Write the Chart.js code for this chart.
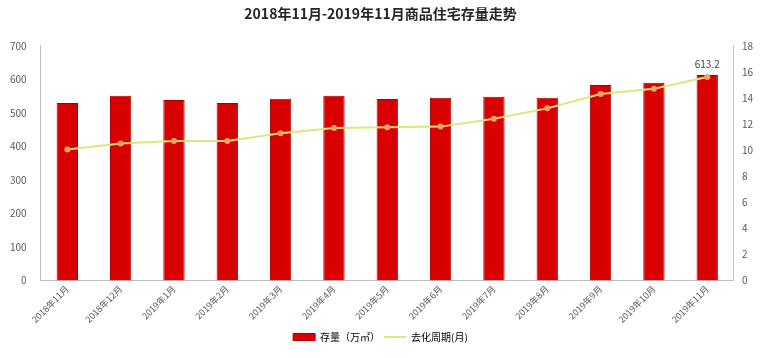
<!DOCTYPE html>
<html><head><meta charset="utf-8">
<script src="https://cdn.jsdelivr.net/npm/chart.js@4"></script>
<style>html,body{margin:0;padding:0;background:#fff}#wrap{width:775px;height:358px}</style>
</head><body><div id="wrap"><canvas id="c"></canvas></div>
<script>
const categories = ["2018年11月","2018年12月","2019年1月","2019年2月","2019年3月","2019年4月","2019年5月","2019年6月","2019年7月","2019年8月","2019年9月","2019年10月","2019年11月"];
const stock = [529, 551, 538, 529, 542, 551, 541, 545, 548, 545, 583, 590, 613.2];
const cycle = [10.05, 10.5, 10.7, 10.7, 11.3, 11.7, 11.75, 11.8, 12.4, 13.2, 14.3, 14.7, 15.6];
const leftTicks = [0,100,200,300,400,500,600,700];
const rightTicks = [0,2,4,6,8,10,12,14,16,18];
const FONT = '"Noto Sans CJK SC", "Noto Sans", sans-serif';

const lastLabel = {
  id:'lastLabel',
  afterDatasetsDraw(chart){
    const meta = chart.getDatasetMeta(1);
    const i = stock.length-1;
    const el = meta.data[i];
    const ctx = chart.ctx;
    ctx.save();
    ctx.font = '10px ' + FONT;
    ctx.fillStyle = '#404040';
    ctx.textAlign = 'center';
    ctx.textBaseline = 'bottom';
    ctx.fillText(String(stock[i]), el.x, el.y - 6);
    ctx.restore();
  }
};

new Chart(document.getElementById('c'), {
  data: {
    labels: categories,
    datasets: [
      { type:'line', label:'去化周期(月)', data: cycle, yAxisID:'y1',
        borderColor:'#e3e47c', backgroundColor:'#e3e47c', borderWidth:2,
        pointRadius:2, pointBackgroundColor:'#f4a262', pointBorderColor:'#f4a262',
        tension:0, order:0 },
      { type:'bar', label:'存量（万㎡）', data: stock, yAxisID:'y',
        backgroundColor:'#d90000', borderColor:'#a80000', borderWidth:1,
        barPercentage:0.4, categoryPercentage:1.0, order:1 }
    ]
  },
  options: {
    responsive:true, maintainAspectRatio:false, animation:false,
    layout:{ padding:{ left:4, right:18, top:0, bottom:6 } },
    plugins: {
      title: { display:true, text:'2018年11月-2019年11月商品住宅存量走势',
        font:{ family:FONT, size:14, weight:'bold' }, color:'#262626',
        padding:{ top:5, bottom:24 } },
      legend: { position:'bottom',
        labels:{ font:{ family:FONT, size:10 }, color:'#404040',
          usePointStyle:true, boxHeight:7, pointStyleWidth:22, padding:4,
          generateLabels(chart){
            return [1,0].map(i=>{
              const d = chart.data.datasets[i];
              return {
              text:d.label, datasetIndex:i,
              fillStyle: d.type==='bar' ? '#d90000' : '#e3e47c',
              strokeStyle: d.type==='bar' ? '#a80000' : '#e3e47c',
              lineWidth: d.type==='bar' ? 1 : 2,
              pointStyle: d.type==='bar' ? 'rect' : 'line',
              hidden:false };
            });
          }
        } },
      tooltip:{ enabled:false }
    },
    scales: {
      x: { grid:{ display:false, drawTicks:false },
        border:{ color:'#bfbfbf' },
        ticks:{ font:{ family:FONT, size:9 }, color:'#595959', minRotation:45, maxRotation:45, padding:3 } },
      y: { position:'left', min:0, max:700,
        afterBuildTicks(s){ s.ticks = leftTicks.map(v=>({value:v})); },
        grid:{ display:false }, border:{ color:'#bfbfbf' },
        ticks:{ font:{ family:FONT, size:10 }, color:'#595959', padding:6 } },
      y1: { position:'right', min:0, max:18,
        afterBuildTicks(s){ s.ticks = rightTicks.map(v=>({value:v})); },
        grid:{ display:false, drawOnChartArea:false, drawTicks:true, tickLength:4, color:'#bfbfbf' }, border:{ color:'#bfbfbf' },
        ticks:{ font:{ family:FONT, size:10 }, color:'#595959', padding:4 } }
    }
  },
  plugins:[lastLabel]
});
</script></body></html>
